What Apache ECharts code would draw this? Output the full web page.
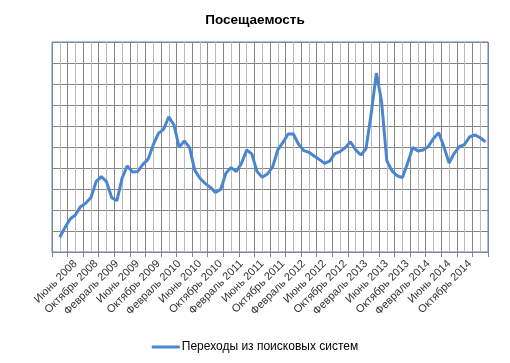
<!DOCTYPE html>
<html>
<head>
<meta charset="utf-8">
<script src="https://cdn.jsdelivr.net/npm/echarts@6/dist/echarts.min.js"></script>
<style>
html,body{margin:0;padding:0;background:#fff;}
#chart{width:510px;height:363px;}
</style>
</head>
<body>
<div id="chart"></div>
<script>
var months = ['',
 'Март 2008','Апрель 2008','Май 2008','Июнь 2008','Июль 2008','Август 2008','Сентябрь 2008','Октябрь 2008','Ноябрь 2008','Декабрь 2008',
 'Январь 2009','Февраль 2009','Март 2009','Апрель 2009','Май 2009','Июнь 2009','Июль 2009','Август 2009','Сентябрь 2009','Октябрь 2009','Ноябрь 2009','Декабрь 2009',
 'Январь 2010','Февраль 2010','Март 2010','Апрель 2010','Май 2010','Июнь 2010','Июль 2010','Август 2010','Сентябрь 2010','Октябрь 2010','Ноябрь 2010','Декабрь 2010',
 'Январь 2011','Февраль 2011','Март 2011','Апрель 2011','Май 2011','Июнь 2011','Июль 2011','Август 2011','Сентябрь 2011','Октябрь 2011','Ноябрь 2011','Декабрь 2011',
 'Январь 2012','Февраль 2012','Март 2012','Апрель 2012','Май 2012','Июнь 2012','Июль 2012','Август 2012','Сентябрь 2012','Октябрь 2012','Ноябрь 2012','Декабрь 2012',
 'Январь 2013','Февраль 2013','Март 2013','Апрель 2013','Май 2013','Июнь 2013','Июль 2013','Август 2013','Сентябрь 2013','Октябрь 2013','Ноябрь 2013','Декабрь 2013',
 'Январь 2014','Февраль 2014','Март 2014','Апрель 2014','Май 2014','Июнь 2014','Июль 2014','Август 2014','Сентябрь 2014','Октябрь 2014','Ноябрь 2014','Декабрь 2014',
 'Январь 2015'];

var visits = [null,
 0.70, 1.16, 1.57, 1.76, 2.16, 2.32, 2.59, 3.35, 3.59, 3.35,
 2.59, 2.44, 3.51, 4.10, 3.81, 3.83, 4.17, 4.41, 5.10, 5.65,
 5.84, 6.44, 6.05, 4.98, 5.29, 4.97, 3.90, 3.51, 3.27, 3.08,
 2.84, 2.98, 3.75, 4.02, 3.83, 4.22, 4.86, 4.67, 3.83, 3.56,
 3.71, 4.05, 4.86, 5.22, 5.62, 5.62, 5.13, 4.83, 4.75, 4.57,
 4.41, 4.22, 4.33, 4.68, 4.78, 4.97, 5.25, 4.86, 4.62, 4.92,
 6.60, 8.52, 7.15, 4.35, 3.86, 3.63, 3.54, 4.22, 4.98, 4.81,
 4.86, 5.02, 5.41, 5.68, 5.02, 4.24, 4.70, 5.02, 5.13, 5.49,
 5.57, 5.44, 5.25];

var seriesName = 'Переходы из поисковых систем';
var titleText = 'Посещаемость';

var chart = echarts.init(document.getElementById('chart'), null, {renderer: 'canvas'});
chart.setOption({
  animation: false,
  textStyle: {fontFamily: 'Liberation Sans, Arial, sans-serif'},
  title: {
    text: titleText,
    left: 'center',
    top: 8,
    textStyle: {fontSize: 13.5, fontWeight: 'bold', color: '#000', fontFamily: 'Liberation Sans, Arial, sans-serif'}
  },
  legend: {
    top: 336,
    left: 'center',
    itemWidth: 28,
    itemHeight: 3,
    itemGap: 10,
    data: [{name: seriesName, icon: 'rect'}],
    textStyle: {fontSize: 12, color: '#000', padding: [0, 0, 0, -3]}
  },
  grid: {
    left: 52, right: 22, top: 42, bottom: 111,
    show: true, borderColor: '#4a86cf', borderWidth: 1, backgroundColor: 'transparent'
  },
  xAxis: [{
    type: 'category',
    data: months,
    boundaryGap: true,
    axisLine: {show: true, lineStyle: {color: '#868686', width: 1}},
    axisTick: {show: true, interval: 2, length: 5, lineStyle: {color: '#868686'}},
    axisLabel: {interval: 3, rotate: 45, fontSize: 11, color: '#333', margin: 10},
    splitLine: {show: false}
  }, {
    type: 'value',
    min: 0, max: 84, interval: 1.5,
    position: 'top',
    axisLine: {show: false}, axisTick: {show: false}, axisLabel: {show: false},
    splitLine: {show: true, lineStyle: {color: ['#868686', '#bababa'], width: 1}}
  }],
  yAxis: {
    type: 'value', min: 0, max: 10, interval: 1,
    axisLine: {show: false}, axisTick: {show: false}, axisLabel: {show: false},
    splitLine: {show: true, lineStyle: {color: '#868686', width: 1}}
  },
  series: [{
    name: seriesName,
    type: 'line',
    xAxisIndex: 0,
    data: visits,
    showSymbol: false,
    symbol: 'none',
    smooth: false,
    connectNulls: false,
    lineStyle: {color: '#4a86cf', width: 3},
    itemStyle: {color: '#4a86cf'}
  }]
});
</script>
</body>
</html>
